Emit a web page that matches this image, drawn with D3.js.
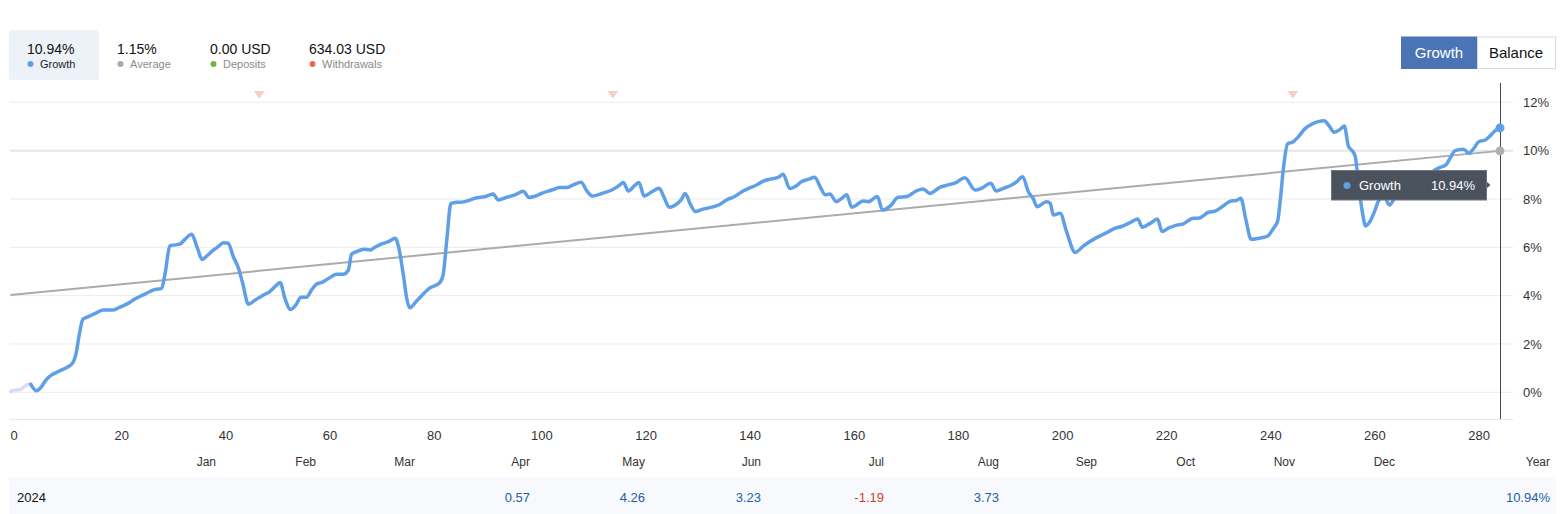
<!DOCTYPE html>
<html>
<head>
<meta charset="utf-8">
<script src="https://cdn.jsdelivr.net/npm/d3@7/dist/d3.min.js"></script>
<style>
  html, body { margin: 0; padding: 0; background: #fff; }
  svg { display: block; font-family: "Liberation Sans", Arial, sans-serif; }
</style>
</head>
<body>
<svg id="chart" width="1560" height="514"></svg>
<script>
// ---------------- DATA ----------------
// initial (faded) segment
const startIdx  = [0, 0.9, 1.8, 3.1, 3.9];
const startVals = [0.03, 0.10, 0.11, 0.30, 0.33];

// growth curve vertices (trade index, growth %)
const growthIdx = [3.9,5.0,5.7,6.95,7.9,9.2,10.8,11.9,12.6,13.2,13.9,14.95,16.6,17.8,19.7,21.0,22.6,23.9,25.5,26.8,27.8,29.0,29.7,30.6,31.6,32.6,33.5,34.8,35.8,36.8,37.7,39.0,39.9,40.9,41.8,42.8,43.8,44.6,45.7,47.0,48.6,49.8,50.8,51.8,52.7,53.8,54.8,55.8,56.8,57.9,58.8,59.8,61.0,62.7,63.9,64.9,65.5,66.5,67.8,69.1,70.0,71.3,72.6,73.9,74.6,75.5,76.1,76.7,78.0,79.3,80.6,81.5,82.5,83.1,83.8,84.6,85.7,87.0,88.3,89.2,91.2,92.7,93.7,95.3,96.9,98.5,99.6,100.8,102.0,104.0,105.5,106.8,108.1,109.6,110.7,111.8,113.6,115.5,116.8,117.7,118.7,119.8,120.7,121.7,123.2,124.6,125.6,126.5,128.3,128.8,129.6,130.5,131.6,132.8,134.7,136.0,137.8,138.8,140.8,141.7,143.3,144.6,146.2,147.5,148.4,149.7,150.7,152.0,153.2,154.5,155.5,156.5,157.4,158.6,159.7,160.6,161.6,162.5,163.7,164.8,166.5,167.5,169.0,170.5,172.2,173.7,175.3,176.6,178.5,180.1,181.7,183.3,185.3,186.5,188.3,189.3,190.7,192.3,193.3,194.4,195.5,196.4,197.2,199.0,199.7,200.3,201.6,202.9,204.5,206.1,208.6,210.6,212.2,213.4,215.4,216.5,217.4,218.9,220.3,221.2,222.4,223.7,225.3,227.2,228.2,230.1,231.4,233.0,234.4,235.4,236.3,237.3,238.3,239.7,241.5,242.6,243.4,243.9,244.5,245.3,246.4,247.4,248.7,250.0,251.2,252.3,253.3,254.2,255.4,256.2,257.0,257.7,258.3,258.9,259.6,260.3,261.1,262.1,262.7,263.8,264.9,266.0,268.0,270.5,272.5,273.6,274.6,275.7,276.5,277.5,279.1,280.1,281.1,282.0,283.3,284.2,285.2,286.1];
const growthVals = [0.33,0.06,0.17,0.54,0.72,0.86,1.03,1.20,1.61,2.37,3.02,3.13,3.30,3.41,3.41,3.52,3.68,3.86,4.03,4.17,4.26,4.29,4.92,6.06,6.10,6.14,6.33,6.54,6.03,5.50,5.64,5.89,6.03,6.19,6.17,5.61,5.13,4.51,3.64,3.82,4.03,4.17,4.37,4.54,3.89,3.43,3.61,3.93,3.93,4.26,4.48,4.55,4.70,4.88,4.88,5.06,5.71,5.82,5.92,5.89,6.00,6.14,6.23,6.37,5.96,4.79,3.89,3.50,3.78,4.07,4.33,4.41,4.55,4.86,6.30,7.82,7.86,7.88,7.96,8.03,8.10,8.21,7.96,8.07,8.17,8.32,8.06,8.12,8.23,8.37,8.47,8.47,8.58,8.69,8.33,8.12,8.23,8.37,8.54,8.68,8.33,8.54,8.68,8.12,8.30,8.44,8.03,7.66,7.85,7.96,8.23,7.82,7.48,7.57,7.66,7.75,7.99,8.07,8.34,8.43,8.58,8.74,8.83,8.90,9.02,8.43,8.51,8.72,8.81,8.90,8.51,8.17,8.21,7.89,8.03,8.17,7.66,7.75,7.92,7.89,8.10,7.54,7.71,8.07,8.10,8.30,8.41,8.23,8.48,8.58,8.69,8.88,8.37,8.44,8.65,8.33,8.44,8.58,8.72,8.92,8.30,8.03,7.68,7.89,7.82,7.34,7.41,6.61,5.79,6.06,6.40,6.61,6.79,6.86,7.06,7.17,6.83,6.99,7.17,6.65,6.79,6.90,6.97,7.20,7.20,7.45,7.50,7.72,7.92,7.93,8.03,7.13,6.33,6.37,6.47,6.79,7.10,7.96,9.27,10.28,10.37,10.58,10.92,11.10,11.20,11.24,11.02,10.76,10.88,11.02,10.17,10.00,9.75,8.65,7.54,6.88,7.06,7.54,7.89,8.10,7.75,8.10,8.50,8.80,9.00,9.20,9.31,9.41,9.68,10.00,10.06,9.89,10.10,10.37,10.44,10.61,10.83,10.94];

// average trend line (start / end)
const avgIdx  = [0, 286.1];
const avgVals = [4.03, 9.99];

// withdrawal markers (trade index)
const withdrawalIdx = [47.8, 115.7, 246.3];

// axis ticks
const xTicks = [0,20,40,60,80,100,120,140,160,180,200,220,240,260,280];
const yTicks = [0,2,4,6,8,10,12];

// summary legend
const legendValues = ["10.94%", "1.15%", "0.00 USD", "634.03 USD"];
const legendLabels = ["Growth", "Average", "Deposits", "Withdrawals"];

// monthly table
const months      = ["Jan","Feb","Mar","Apr","May","Jun","Jul","Aug","Sep","Oct","Nov","Dec"];
const monthValues = [null,null,null,0.57,4.26,3.23,-1.19,3.73,null,null,null,null];
const yearLabel   = "2024";
const yearTotal   = "10.94%";

// ---------------- LAYOUT / STYLE ----------------
const colors = {
  growth: "#5f9fe8", start: "#d7dcf4", avg: "#ababab",
  legendDots: ["#5f9fe8", "#a9a9a9", "#74b347", "#ec6a46"],
  grid: "#ebebeb", text: "#333", pos: "#23629f", neg: "#c9462a",
  tip: "#4a525e", tri: "#f6cfc3"
};
const legendX = [27, 117, 210, 309];
const monthRight = [216, 316, 415, 530, 645, 761, 884, 999, 1097, 1195, 1295, 1395];

const svg = d3.select("#chart");
const x = d3.scaleLinear().domain([0, 286.1]).range([10.5, 1500]);
const y = d3.scaleLinear().domain([0, 12]).range([392.3, 102.3]);

// grid
svg.append("g").selectAll("line").data(yTicks).join("line")
  .attr("x1", 10).attr("x2", 1513)
  .attr("y1", d => y(d)).attr("y2", d => y(d))
  .attr("stroke", d => d === 10 ? "#e6e6e6" : colors.grid)
  .attr("stroke-width", d => d === 10 ? 2 : 1);
// bottom axis line
svg.append("line").attr("x1", 10).attr("x2", 1513).attr("y1", 419.5).attr("y2", 419.5)
  .attr("stroke", "#e6e6e6").attr("stroke-width", 1);

// y labels
svg.append("g").selectAll("text").data(yTicks).join("text")
  .attr("x", 1523).attr("y", d => y(d)).attr("dy", "0.35em")
  .attr("font-size", 13).attr("fill", colors.text)
  .text(d => d + "%");

// x tick labels
svg.append("g").selectAll("text").data(xTicks).join("text")
  .attr("x", d => x(d)).attr("y", 440)
  .attr("font-size", 13).attr("fill", colors.text)
  .text(d => d);

// withdrawal triangles
svg.append("g").selectAll("path").data(withdrawalIdx).join("path")
  .attr("d", d => `M${x(d)-5.5},91 L${x(d)+5.5},91 L${x(d)},98.5 Z`)
  .attr("fill", colors.tri);

// average line
const avgData = avgIdx.map((d, i) => [d, avgVals[i]]);
svg.append("path").datum(avgData)
  .attr("d", d3.line().x(d => x(d[0])).y(d => y(d[1])))
  .attr("fill", "none").attr("stroke", colors.avg).attr("stroke-width", 2);

const lineGen = d3.line().x(d => x(d[0])).y(d => y(d[1])).curve(d3.curveMonotoneX);

// start segment
const startData = startIdx.map((d, i) => [d, startVals[i]]);
svg.append("path").datum(startData)
  .attr("d", lineGen)
  .attr("fill", "none").attr("stroke", colors.start).attr("stroke-width", 3.5)
  .attr("stroke-linejoin", "round").attr("stroke-linecap", "round");

// growth line
const gData = growthIdx.map((d, i) => [d, growthVals[i]]);
svg.append("path").datum(gData)
  .attr("d", lineGen)
  .attr("fill", "none").attr("stroke", colors.growth).attr("stroke-width", 3.5)
  .attr("stroke-linejoin", "round").attr("stroke-linecap", "round");

// crosshair
const lastI = growthIdx[growthIdx.length - 1];
const cx = Math.round(x(lastI)) + 0.5;
svg.append("line").attr("x1", cx).attr("x2", cx).attr("y1", 83).attr("y2", 419)
  .attr("stroke", "#3f4754").attr("stroke-width", 1);
svg.append("circle").attr("cx", x(avgIdx[1])).attr("cy", y(avgVals[1])).attr("r", 4.5)
  .attr("fill", "#b0b0b0");
svg.append("circle").attr("cx", x(lastI)).attr("cy", y(growthVals[growthVals.length - 1])).attr("r", 4.5)
  .attr("fill", colors.growth);

// tooltip
const tip = svg.append("g");
tip.append("rect").attr("x", 1331.5).attr("y", 170.5).attr("width", 155).attr("height", 29.5)
  .attr("fill", colors.tip).attr("stroke", "#6d7480").attr("stroke-width", 1);
tip.append("path").attr("d", "M1487,182 L1490.5,185 L1487,188 Z").attr("fill", colors.tip);
tip.append("circle").attr("cx", 1347).attr("cy", 185.5).attr("r", 3.5).attr("fill", colors.growth);
tip.append("text").attr("x", 1359).attr("y", 190).attr("font-size", 13).attr("fill", "#fff").text("Growth");
tip.append("text").attr("x", 1475).attr("y", 190).attr("font-size", 13).attr("fill", "#fff")
  .attr("text-anchor", "end").text(growthVals[growthVals.length - 1].toFixed(2) + "%");

// legend
svg.append("rect").attr("x", 9).attr("y", 30).attr("width", 90).attr("height", 50).attr("rx", 2)
  .attr("fill", "#edf2f9");
const lg = svg.append("g").selectAll("g").data(legendValues).join("g");
lg.append("text").attr("x", (d, i) => legendX[i]).attr("y", 54)
  .attr("font-size", 14).attr("fill", "#111").text(d => d);
lg.append("circle").attr("cx", (d, i) => legendX[i] + 3.5).attr("cy", 64).attr("r", 3)
  .attr("fill", (d, i) => colors.legendDots[i]);
lg.append("text").attr("x", (d, i) => legendX[i] + 13).attr("y", 68)
  .attr("font-size", 11).attr("fill", (d, i) => i === 0 ? "#222" : "#8a8a8a")
  .text((d, i) => legendLabels[i]);

// buttons
svg.append("rect").attr("x", 1401).attr("y", 36.5).attr("width", 76).attr("height", 32.5).attr("fill", "#4b74b6");
svg.append("rect").attr("x", 1477.5).attr("y", 37).attr("width", 78).attr("height", 31.5)
  .attr("fill", "#fff").attr("stroke", "#d9d9d9");
svg.append("text").attr("x", 1439).attr("y", 58).attr("text-anchor", "middle")
  .attr("font-size", 15).attr("fill", "#fff").text("Growth");
svg.append("text").attr("x", 1516).attr("y", 58).attr("text-anchor", "middle")
  .attr("font-size", 15).attr("fill", "#111").text("Balance");

// month table
svg.append("g").selectAll("text").data(months).join("text")
  .attr("x", (d, i) => monthRight[i]).attr("y", 466).attr("text-anchor", "end")
  .attr("font-size", 12).attr("fill", colors.text).text(d => d);
svg.append("text").attr("x", 1550).attr("y", 466).attr("text-anchor", "end")
  .attr("font-size", 12).attr("fill", colors.text).text("Year");

svg.append("rect").attr("x", 9).attr("y", 477).attr("width", 1547).attr("height", 37).attr("fill", "#f7f9fd");
svg.append("text").attr("x", 17).attr("y", 501.5).attr("font-size", 13).attr("fill", "#111").text(yearLabel);
svg.append("g").selectAll("text").data(monthValues).join("text")
  .attr("x", (d, i) => monthRight[i]).attr("y", 501.5).attr("text-anchor", "end")
  .attr("font-size", 13).attr("fill", d => d < 0 ? colors.neg : colors.pos)
  .text(d => d === null ? "" : d.toFixed(2));
svg.append("text").attr("x", 1550).attr("y", 501.5).attr("text-anchor", "end")
  .attr("font-size", 13).attr("fill", colors.pos).text(yearTotal);
</script>
</body>
</html>
